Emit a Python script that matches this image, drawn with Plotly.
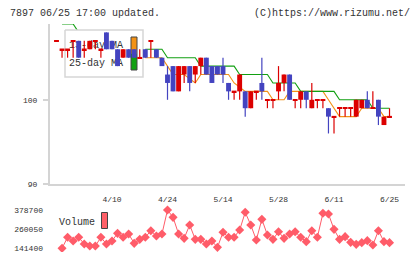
import plotly.graph_objects as go

W, H = 420, 259

# ---------------- data ----------------
opens  = [107,106,106,107,107,106,106,107,106,108,107,106,105,106,106,105,106,107,106,105,
          103,104,101,103,104,103,104,105,104,104,104,102,101,101,101,99,101,102,100,100,
          101,102,103,100,100,101,99,100,100,99,98,99,99,99,98,99,100,99,100,97,98]
highs  = [107,106,106,107,107,107,107,107,106,108,107,106,106,106,106,106,106,107,106,105,
          104,104,104,104,104,104,105,105,104,104,105,102,101,103,101,101,101,105,100,100,
          104,103,103,100,101,101,102,100,100,99,98,99,99,99,100,100,101,101,100,98,99]
lows   = [107,105,105,105,105,105,106,106,105,106,106,104,105,105,105,105,105,105,105,104,
          100,101,101,102,101,102,103,103,102,103,102,100,100,100,98,99,100,100,99,99,
          100,101,100,99,99,99,99,99,99,96,96,98,98,98,98,99,99,99,97,97,98]
closes = [107,106,106,107,105,106,107,107,106,106,106,104,106,105,105,105,105,107,105,104,
          102,101,104,104,102,104,105,103,102,103,103,101,101,103,99,101,101,101,100,100,
          102,103,100,100,101,100,100,100,100,98,98,99,99,99,100,100,99,99,98,98,98]

N = None
ma13 = [N,106,N,N,N,N,N,N,N,N,N,N,N,N,N,N,105,105,105,105,
        104,103,103,103,102.5,102,103,103,103,103,103,103,102,101.5,101,101,101,101,101,100,
        100,100,101,101,101,101,101,101,101,100,99,98,98,98,98,99,99,99,99,98,98]
ma25 = [N,109,109,109,108,N,N,N,N,N,N,N,N,N,N,N,106,106,106,106,
        105,105,105,105,105,105,104,104,104,104,104,104,104,103,103,103,103,103,103,102,
        102,102,102,102,101,101,101,101,101,101,101,100,100,100,100,100,100,99,99,99,99]
volume = [N,141400,209400,186600,209400,168000,155600,155600,209400,168000,186600,234100,209400,230000,172200,197000,209400,250600,217600,230000,
          378700,333300,230000,203200,285800,197000,197000,168000,186600,147400,240400,209400,209400,254800,364300,285800,192800,320900,223800,197000,
          244400,203200,230000,244400,209400,182500,250600,209400,358100,353900,258900,197000,213500,178400,166000,176300,188700,161900,250600,182500,176300]

date_idx = [10, 20, 30, 40, 50, 60]
date_labels = ["4/10", "4/24", "5/14", "5/28", "6/11", "6/25"]
price_ticks = [90, 100]
vol_ticks = [141400, 260050, 378700]

# ---------------- styles ----------------
RED, BLUE = "#dc0000", "#4444c0"
ORANGE, GREEN = "#f39216", "#12a012"
VOLC = "#ff5c69"
AX = "#d4d4d4"
TXT = "#333333"
FONT = "Liberation Mono"

n = len(closes)
idx = list(range(n))

def px_x(p):
    return p / W

def px_y(p):
    return 1 - p / H

fig = go.Figure()

# moving averages (main subplot)
fig.add_trace(go.Scatter(x=idx, y=ma13, mode="lines", line=dict(color=ORANGE, width=1.1),
                         xaxis="x", yaxis="y", hoverinfo="skip"))
fig.add_trace(go.Scatter(x=idx, y=ma25, mode="lines", line=dict(color=GREEN, width=1.1),
                         xaxis="x", yaxis="y", hoverinfo="skip"))

# legend box layer (pixel overlay x2/y2)
fig.add_trace(go.Scatter(x=[65, 143, 143, 65, 65], y=[30, 30, 77, 77, 30], mode="lines",
                         fill="toself", fillcolor="white", line=dict(color="#d6d6d6", width=1.5),
                         xaxis="x2", yaxis="y2", hoverinfo="skip"))
fig.add_trace(go.Scatter(x=[131, 137, 137, 131, 131], y=[37, 37, 53.5, 53.5, 37], mode="lines",
                         fill="toself", fillcolor=ORANGE, line=dict(width=0),
                         xaxis="x2", yaxis="y2", hoverinfo="skip"))
fig.add_trace(go.Scatter(x=[131, 137, 137, 131, 131], y=[53.5, 53.5, 70, 70, 53.5], mode="lines",
                         fill="toself", fillcolor=GREEN, line=dict(width=0),
                         xaxis="x2", yaxis="y2", hoverinfo="skip"))
fig.add_trace(go.Scatter(x=[131, 137, 137, 131, 131], y=[37, 37, 70, 70, 37], mode="lines",
                         line=dict(color="#444444", width=1),
                         xaxis="x2", yaxis="y2", hoverinfo="skip"))
fig.add_trace(go.Scatter(x=[69, 69], y=[45, 63.5], mode="text", text=["13-day MA", "25-day MA"],
                         textposition="middle right", textfont=dict(family=FONT, size=10, color=TXT),
                         xaxis="x2", yaxis="y2", hoverinfo="skip"))

# candles (overlay x3/y3)
up_b, up_h, up_x, dn_b, dn_h, dn_x = [], [], [], [], [], []
for i in idx:
    o, c = opens[i], closes[i]
    if c > o:
        up_x.append(i); up_b.append(o); up_h.append(c - o)
    elif c == o:
        up_x.append(i); up_b.append(o - 0.09); up_h.append(0.18)
    else:
        dn_x.append(i); dn_b.append(c); dn_h.append(o - c)

def wicks(up):
    xs, ys = [], []
    for i in idx:
        is_up = closes[i] >= opens[i]
        if is_up == up and highs[i] > lows[i]:
            xs += [i, i, None]
            ys += [lows[i], highs[i], None]
    return xs, ys

for up, color in ((True, RED), (False, BLUE)):
    wx, wy = wicks(up)
    fig.add_trace(go.Scatter(x=wx, y=wy, mode="lines", line=dict(color=color, width=1.2),
                             xaxis="x3", yaxis="y3", hoverinfo="skip"))
fig.add_trace(go.Bar(x=up_x, y=up_h, base=up_b, width=0.88, marker=dict(color=RED, line=dict(width=0)),
                     xaxis="x3", yaxis="y3", hoverinfo="skip"))
fig.add_trace(go.Bar(x=dn_x, y=dn_h, base=dn_b, width=0.88, marker=dict(color=BLUE, line=dict(width=0)),
                     xaxis="x3", yaxis="y3", hoverinfo="skip"))

# volume
fig.add_trace(go.Scatter(x=idx, y=volume, mode="lines+markers",
                         line=dict(color=VOLC, width=1),
                         marker=dict(symbol="diamond", size=7, color=VOLC),
                         xaxis="x", yaxis="y6", hoverinfo="skip"))

xr = [-1.17, 62.79]
pr = [90, 109]
xdom = [px_x(50), px_x(405)]
pdom = [px_y(184), px_y(24)]
vdom = [px_y(252), px_y(205)]

tickfont = dict(family=FONT, size=8, color=TXT)

fig.update_layout(
    width=W, height=H, margin=dict(l=0, r=0, t=0, b=0),
    paper_bgcolor="white", plot_bgcolor="white",
    showlegend=False, barmode="overlay", hovermode=False,
    xaxis=dict(domain=xdom, range=xr, anchor="y", showgrid=False, zeroline=False,
               showline=True, linecolor=AX, linewidth=2,
               tickmode="array", tickvals=date_idx, ticktext=date_labels, ticks="",
               tickfont=tickfont, ticklabelstandoff=6, automargin=False),
    yaxis=dict(domain=pdom, range=pr, anchor="x", showgrid=False, zeroline=False,
               showline=True, linecolor=AX, linewidth=2,
               tickmode="array", tickvals=price_ticks, ticks="outside", ticklen=5,
               tickwidth=2, tickcolor=AX, tickfont=tickfont, ticklabelstandoff=4,
               automargin=False),
    xaxis2=dict(overlaying="x", range=[50, 405], visible=False),
    yaxis2=dict(overlaying="y", range=[184, 24], visible=False),
    xaxis3=dict(overlaying="x", range=xr, visible=False),
    yaxis3=dict(overlaying="y", range=pr, visible=False),
    xaxis4=dict(overlaying="x", anchor="y", range=[0, 11], tickmode="array",
                tickvals=list(range(1, 12)), ticks="outside", ticklen=6, tickwidth=2,
                tickcolor=AX, showticklabels=False, showgrid=False, zeroline=False, showline=False),
    xaxis5=dict(overlaying="x", anchor="y", range=[0, 11], tickmode="array",
                tickvals=list(range(1, 12)), ticks="inside", ticklen=4, tickwidth=2,
                tickcolor=AX, showticklabels=False, showgrid=False, zeroline=False, showline=False),
    yaxis4=dict(overlaying="y", anchor="x", range=pr, tickmode="array", tickvals=price_ticks,
                ticks="inside", ticklen=3, tickwidth=2, tickcolor=AX, showticklabels=False,
                showgrid=False, zeroline=False, showline=False),
    yaxis6=dict(domain=vdom, range=[118475, 409680], anchor="x", showgrid=False, zeroline=False,
                showline=False, tickmode="array", tickvals=vol_ticks,
                ticktext=[str(v) for v in vol_ticks], ticks="", tickfont=tickfont,
                ticklabelstandoff=6, automargin=False),
)

# header texts and volume legend
fig.add_annotation(x=px_x(8), y=px_y(13), xref="paper", yref="paper", text="7897 06/25 17:00 updated.",
                   showarrow=False, xanchor="left", yanchor="middle",
                   font=dict(family=FONT, size=10, color=TXT))
fig.add_annotation(x=px_x(412), y=px_y(13), xref="paper", yref="paper", text="(C)https://www.rizumu.net/",
                   showarrow=False, xanchor="right", yanchor="middle",
                   font=dict(family=FONT, size=10, color=TXT))
fig.add_annotation(x=px_x(57), y=px_y(222), xref="paper", yref="paper", text="Volume",
                   showarrow=False, xanchor="left", yanchor="middle",
                   font=dict(family=FONT, size=10, color=TXT))
fig.add_shape(type="rect", xref="paper", yref="paper",
              x0=px_x(101.5), x1=px_x(107.5), y0=px_y(228.5), y1=px_y(212.5),
              fillcolor="#ff6068", line=dict(color="#444444", width=1))

fig.write_html("out.html")
